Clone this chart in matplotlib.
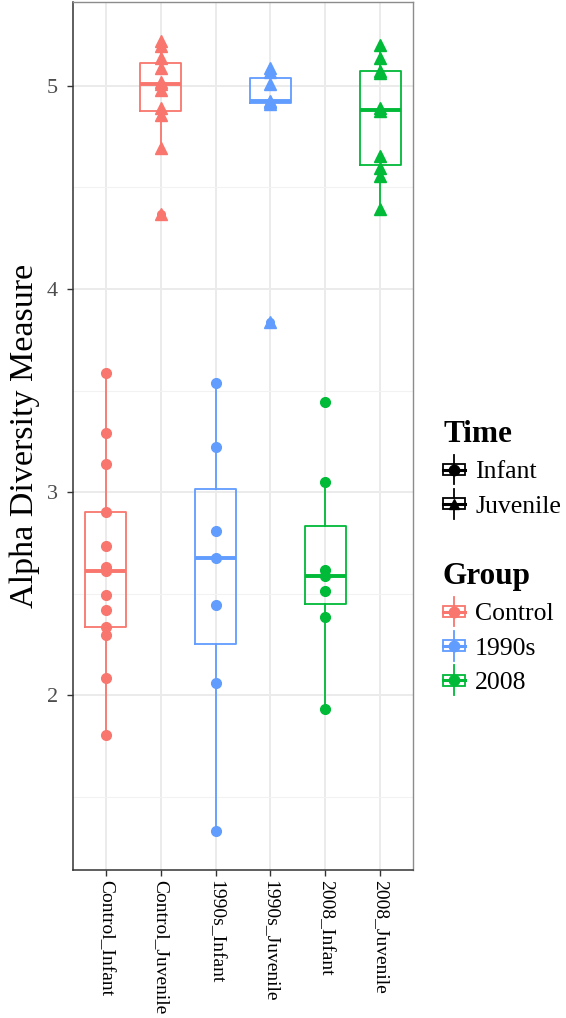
import numpy as np
import matplotlib
matplotlib.use('Agg')
import matplotlib.pyplot as plt
from matplotlib.legend_handler import HandlerBase
from matplotlib.lines import Line2D
from matplotlib.patches import Rectangle

plt.rcParams['font.family'] = ['Liberation Serif', 'DejaVu Serif']

# Data
categories = ['Control_Infant', 'Control_Juvenile', '1990s_Infant',
              '1990s_Juvenile', '2008_Infant', '2008_Juvenile']
groups = ['Control', 'Control', '1990s', '1990s', '2008', '2008']
times = ['Infant', 'Juvenile', 'Infant', 'Juvenile', 'Infant', 'Juvenile']

control_infant = [3.585, 3.291, 3.136, 2.902, 2.735, 2.630, 2.610, 2.494,
                  2.420, 2.335, 2.298, 2.085, 1.804]
control_juvenile = [5.219, 5.195, 5.137, 5.088, 5.020, 5.010, 4.982, 4.892,
                    4.859, 4.696, 4.369]
y1990s_infant = [3.539, 3.221, 2.809, 2.675, 2.446, 2.061, 1.333]
y1990s_juvenile = [5.090, 5.070, 5.010, 4.926, 4.920, 4.912, 3.835]
y2008_infant = [3.441, 3.050, 2.618, 2.588, 2.515, 2.387, 1.933]
y2008_juvenile = [5.202, 5.137, 5.075, 5.064, 4.890, 4.875, 4.657, 4.598,
                  4.557, 4.394]

values = [control_infant, control_juvenile, y1990s_infant,
          y1990s_juvenile, y2008_infant, y2008_juvenile]

group_colors = {'Control': '#F8766D', '1990s': '#619CFF', '2008': '#00BA38'}
time_markers = {'Infant': 'o', 'Juvenile': '^'}

fig = plt.figure(figsize=(5.66, 10.18), dpi=100)
ax = fig.add_axes([73 / 566, 1 - 870 / 1018, 340 / 566, 868 / 1018])

positions = np.arange(1, len(categories) + 1)

# boxes
for pos, vals, g in zip(positions, values, groups):
    c = group_colors[g]
    ax.boxplot([vals], positions=[pos], widths=0.75, whis=1.5,
               showcaps=False, manage_ticks=False,
               boxprops=dict(color=c, linewidth=1.3),
               whiskerprops=dict(color=c, linewidth=1.3),
               medianprops=dict(color=c, linewidth=2.8),
               flierprops=dict(marker='o', markerfacecolor=c,
                               markeredgecolor=c, markersize=5.5),
               zorder=3)

# points
for pos, vals, g, t in zip(positions, values, groups, times):
    c = group_colors[g]
    m = time_markers[t]
    ms = 7 if m == 'o' else 8.5
    ax.plot([pos] * len(vals), vals, linestyle='none', marker=m,
            color=c, markersize=ms, zorder=4)

# ggplot-like scales
all_vals = np.concatenate(values)
lo, hi = all_vals.min(), all_vals.max()
pad = 0.05 * (hi - lo)
ax.set_ylim(lo - pad, hi + pad)
ax.set_xlim(0.4, len(categories) + 0.6)

ax.set_yticks([2, 3, 4, 5])
ax.set_yticks([1.5, 2.5, 3.5, 4.5], minor=True)
ax.set_xticks(positions)
ax.set_xticklabels(categories, rotation=-90, fontsize=14, color='black')
ax.tick_params(axis='y', labelsize=16, labelcolor='#4D4D4D', pad=7)
ax.tick_params(which='major', length=4, width=1, color='#333333')
ax.tick_params(which='minor', length=0)

ax.grid(which='major', color='#EBEBEB', linewidth=1.4, zorder=0)
ax.grid(which='minor', axis='y', color='#F2F2F2', linewidth=0.8, zorder=0)
ax.set_axisbelow(True)

for side in ['left', 'bottom']:
    ax.spines[side].set_color('#333333')
    ax.spines[side].set_linewidth(1.1)
for side in ['top', 'right']:
    ax.spines[side].set_color('#8C8C8C')
    ax.spines[side].set_linewidth(1.0)

ax.set_ylabel('Alpha Diversity Measure', fontsize=24.5, labelpad=5)


# legend key: little boxplot with a point on it
class BoxKey(HandlerBase):
    def create_artists(self, legend, orig_handle, xdescent, ydescent,
                       width, height, fontsize, trans):
        c = orig_handle.get_color()
        m = orig_handle.get_marker()
        x0, y0 = -xdescent, -ydescent
        cx = x0 + width / 2
        cy = y0 + height / 2
        bh = 0.22 * height
        box = Rectangle((x0, cy - bh), width, 2 * bh, fill=False,
                        edgecolor=c, linewidth=1.3, transform=trans)
        w1 = Line2D([cx, cx], [y0 - 0.1 * height, cy - bh], color=c, lw=1.3,
                    transform=trans)
        w2 = Line2D([cx, cx], [cy + bh, y0 + 1.1 * height], color=c, lw=1.3,
                    transform=trans)
        med = Line2D([x0, x0 + width], [cy, cy], color=c, lw=2.2,
                     transform=trans)
        pt = Line2D([cx], [cy], marker=m, color=c, markersize=7.5,
                    linestyle='none', transform=trans)
        return [w1, w2, box, med, pt]


time_handles = [Line2D([], [], color='black', marker=time_markers[t])
                for t in ['Infant', 'Juvenile']]
group_handles = [Line2D([], [], color=group_colors[g], marker='o')
                 for g in ['Control', '1990s', '2008']]

leg_kw = dict(frameon=False, loc='upper left', handler_map={Line2D: BoxKey()},
              handlelength=0.85, handleheight=1.1, handletextpad=0.4,
              labelspacing=0.32, borderpad=0, borderaxespad=0,
              fontsize=18.5, title_fontproperties={'size': 22.5, 'weight': 'bold'},
              alignment='left')

leg1 = fig.legend(time_handles, ['Infant', 'Juvenile'], title='Time',
                  bbox_to_anchor=(443 / 566, 1 - 420 / 1018), **leg_kw)
leg2 = fig.legend(group_handles, ['Control', '1990s', '2008'], title='Group',
                  bbox_to_anchor=(443 / 566, 1 - 562 / 1018), **leg_kw)

fig.savefig('out.png', dpi=100)
